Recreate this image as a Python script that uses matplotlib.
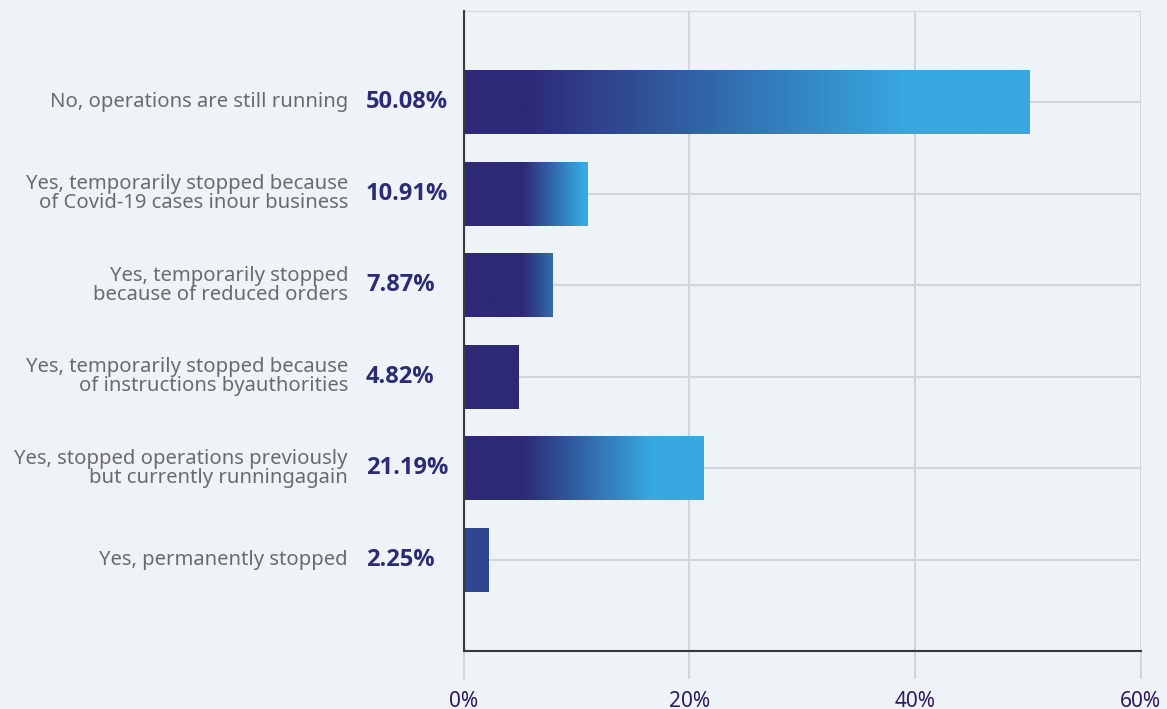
import numpy as np
import matplotlib
matplotlib.use("Agg")
import matplotlib.pyplot as plt

# DATA
categories = [
    "No, operations are still running",
    "Yes, temporarily stopped because\nof Covid-19 cases inour business",
    "Yes, temporarily stopped\nbecause of reduced orders",
    "Yes, temporarily stopped because\nof instructions byauthorities",
    "Yes, stopped operations previously\nbut currently runningagain",
    "Yes, permanently stopped",
]
values = [50.08, 10.91, 7.87, 4.82, 21.19, 2.25]
value_labels = ["50.08%", "10.91%", "7.87%", "4.82%", "21.19%", "2.25%"]
xticks = [0, 20, 40, 60]
xtick_labels = ["0%", "20%", "40%", "60%"]

# STYLE
bg = "#eef3f8"
dark = np.array([45, 41, 118]) / 255
light = np.array([55, 168, 224]) / 255
grid_col = "#d3d5da"
solid_override = {5: "#2f4791"}  # the tiny bar is drawn in a flat mid blue

plt.rcParams["font.family"] = ["Noto Sans", "DejaVu Sans"]

fig = plt.figure(figsize=(11.67, 7.09), dpi=100, facecolor=bg)
ax = fig.add_axes([463.5 / 1167, 1 - 651 / 709, 677 / 1167, 640 / 709])
ax.set_facecolor(bg)

n = len(categories)
ypos = np.arange(n, 0, -1)

# grid
ax.set_yticks(np.arange(0, n + 2))
ax.set_yticklabels([])
ax.tick_params(axis="y", length=0)
ax.grid(True, axis="both", color=grid_col, linewidth=1.5, zorder=0)
ax.set_axisbelow(True)

for s in ["top", "right"]:
    ax.spines[s].set_visible(False)
for s in ["left", "bottom"]:
    ax.spines[s].set_color("#3a3a3a")
    ax.spines[s].set_linewidth(1.5)

ax.set_xticks(xticks)
ax.set_xticklabels(xtick_labels, fontsize=15, color="#2e1a5e")
ax.tick_params(axis="x", length=20.5, width=1.5, color=grid_col, pad=8)
ax.xaxis.get_major_ticks()[0].tick1line.set_color("#3a3a3a")

# bars with gradient fill: dark for the first ~58 px, then fade to light blue
ppu = 677 / 60.0
bars = ax.barh(ypos, values, height=0.7, color="none", edgecolor="none", zorder=2)
for i, (bar, v) in enumerate(zip(bars, values)):
    y0 = bar.get_y()
    if i in solid_override:
        bar.set_facecolor(solid_override[i])
        continue
    px = np.linspace(0, v, 500) * ppu
    span = max(0.78 * v * ppu - 58, 60)
    t = np.clip((px - 58) / span, 0, 1)
    img = dark[None, :] + (light - dark)[None, :] * t[:, None]
    im = ax.imshow(img[None, :, :], extent=[0, v, y0, y0 + bar.get_height()],
                   aspect="auto", zorder=2, interpolation="bilinear")
    im.set_clip_path(bar)

ax.set_xlim(0, 60)
ax.set_ylim(0, n + 1)

for y, cat, lab in zip(ypos, categories, value_labels):
    ax.text(-115.5 / 677, y, cat, transform=ax.get_yaxis_transform(),
            ha="right", va="center", fontsize=14.6, color="#6b6b6b",
            linespacing=0.92)
    ax.text(-97.5 / 677, y, lab, transform=ax.get_yaxis_transform(),
            ha="left", va="center", fontsize=17, fontweight="bold",
            family=["Open Sans", "DejaVu Sans"], color="#2e2a78")

fig.savefig("out.png", dpi=100, facecolor=bg)
